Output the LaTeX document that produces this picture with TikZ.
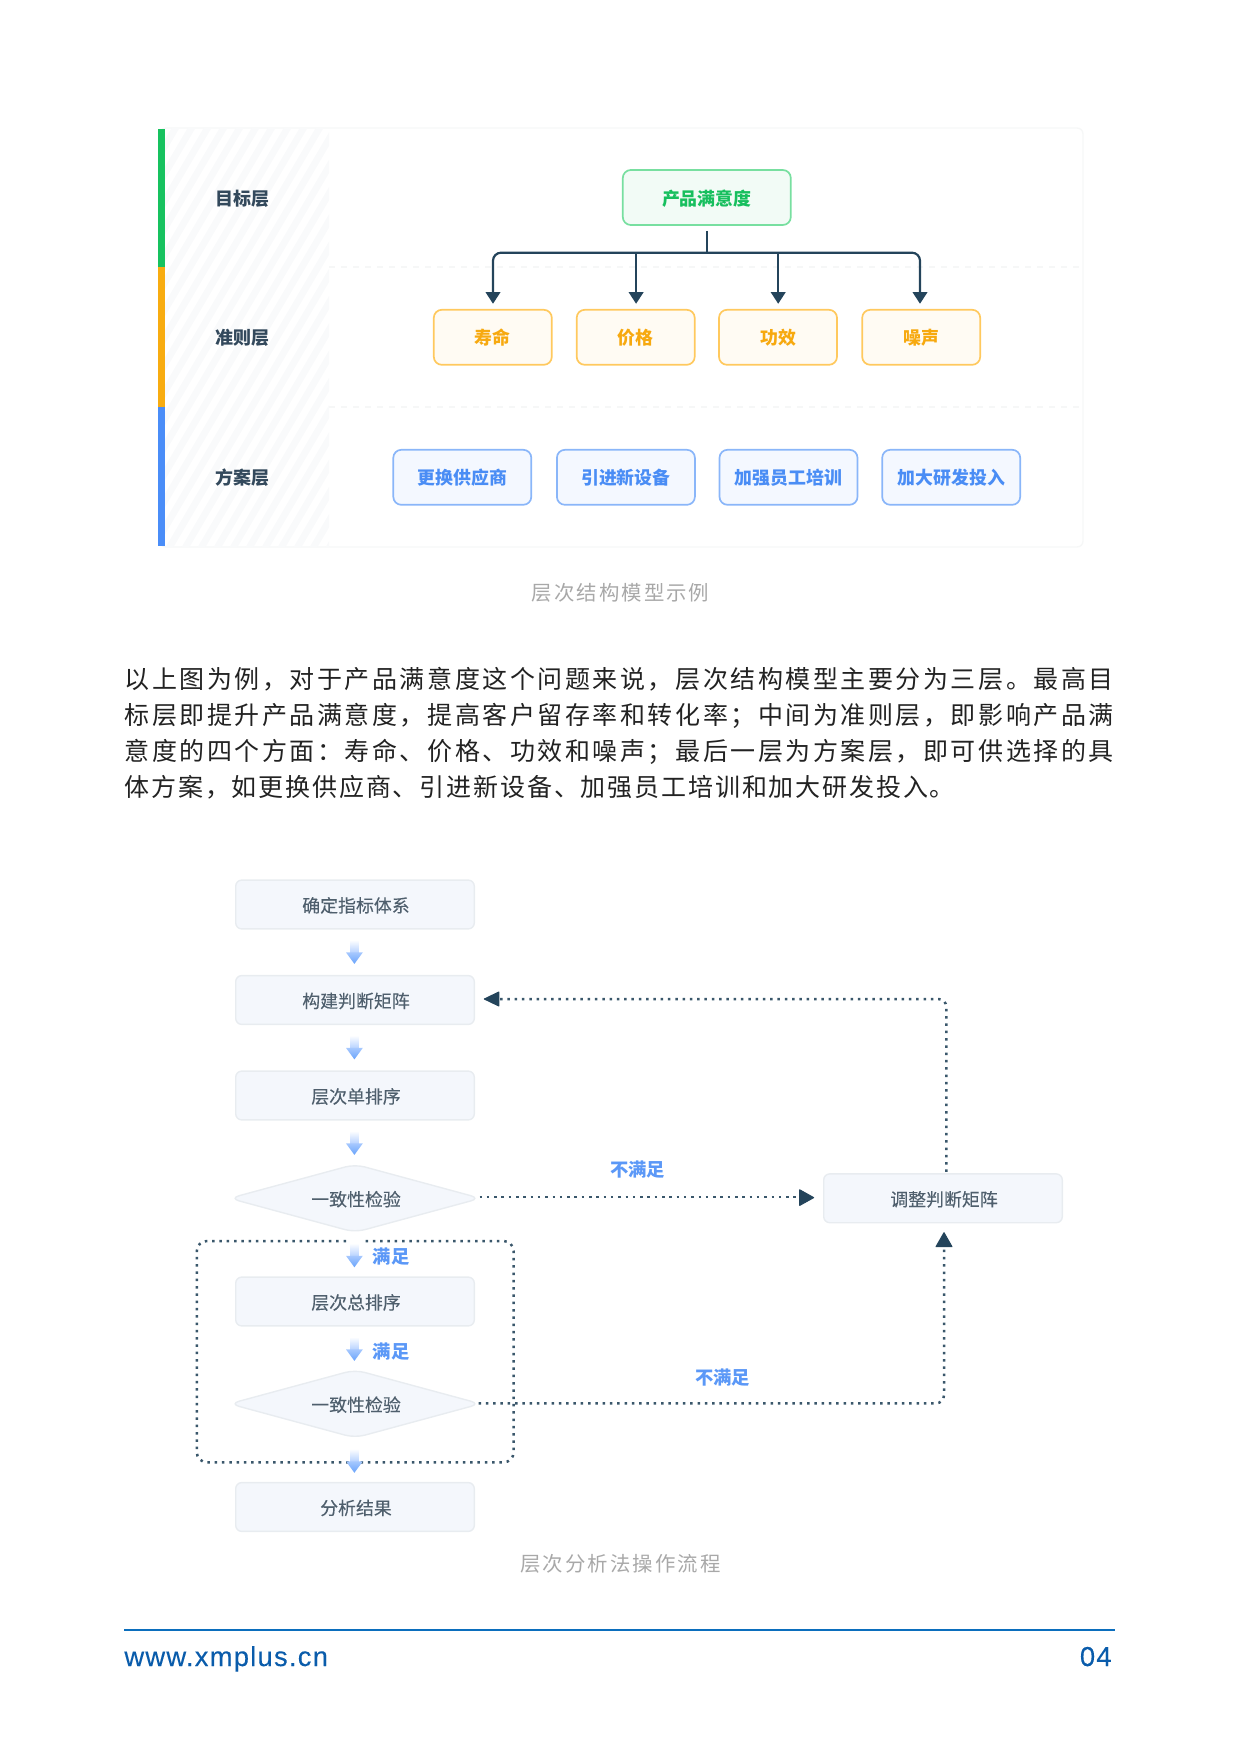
\documentclass[tikz,border=0pt]{standalone}
\usepackage{fontspec}
\setmainfont{Noto Sans CJK SC}
\newfontfamily\bodyfont[LetterSpace=10.2]{Noto Sans CJK SC}
\newfontfamily\bodyfontnat[LetterSpace=7.4]{Noto Sans CJK SC}
\newfontfamily\footfont[LetterSpace=4.5,FakeBold=0.2]{Liberation Sans}
\newfontface\flowface[FakeBold=0.12]{Noto Sans CJK SC}
\usetikzlibrary{arrows.meta,shapes.geometric,calc}
\definecolor{barG}{HTML}{17C25F}
\definecolor{barO}{HTML}{F8AC10}
\definecolor{barB}{HTML}{4A8DF8}
\definecolor{framec}{HTML}{F6F7F7}
\definecolor{hatchc}{HTML}{F9FAFB}
\definecolor{gFill}{HTML}{F2FBF6}
\definecolor{gDraw}{HTML}{78DFA0}
\definecolor{gText}{HTML}{17BF5E}
\definecolor{oFill}{HTML}{FFFBF3}
\definecolor{oDraw}{HTML}{FFC95E}
\definecolor{oText}{HTML}{F7A90F}
\definecolor{bFill}{HTML}{F4F8FF}
\definecolor{bDraw}{HTML}{8AB6F9}
\definecolor{bText}{HTML}{4A8DF5}
\definecolor{okText}{HTML}{5B98F7}
\definecolor{dark}{HTML}{24445B}
\definecolor{labelc}{HTML}{33495C}
\definecolor{flowFill}{HTML}{F4F7FC}
\definecolor{flowDraw}{HTML}{E8ECF0}
\definecolor{flowText}{HTML}{4F5F6D}
\definecolor{capc}{HTML}{A8A8A8}
\definecolor{bodyc}{HTML}{222222}
\definecolor{rulec}{HTML}{0B6EBD}
\definecolor{footc}{HTML}{0A5CAB}
\definecolor{aTop}{HTML}{B5D1FF}
\definecolor{aBot}{HTML}{6AA4FB}
\tikzset{
  layerlabel/.style={font=\fontsize{9}{10}\selectfont\bfseries,text=labelc,inner sep=0pt,text height=8.4pt,text depth=1pt},
  tree/.style={rounded corners=4pt,line width=.85pt,inner sep=0pt,outer sep=0pt,font=\fontsize{8.95}{10}\selectfont\bfseries,text height=7.9pt,text depth=1.06pt},
  goal/.style={tree,draw=gDraw,fill=gFill,text=gText,minimum width=84pt,minimum height=27.5pt,text height=8.9pt},
  crit/.style={tree,draw=oDraw,fill=oFill,text=oText,minimum width=59pt,minimum height=27.5pt},
  plan/.style={tree,draw=bDraw,fill=bFill,text=bText,minimum width=69pt,minimum height=27.5pt},
  treearrow/.style={draw=dark,line width=1.1pt,rounded corners=4pt,-{Triangle[length=5.8pt,width=7.2pt]}},
  flowcore/.style={draw=flowDraw,fill=flowFill,line width=.7pt,inner sep=0pt,outer sep=0pt,text=flowText,font=\fontsize{8.95}{10}\flowface,text height=8.8pt,text depth=1.06pt,execute at begin node={\hspace*{1pt}}},
  flowbox/.style={flowcore,rounded corners=3pt,minimum width=119.3pt,minimum height=24.4pt},
  flowdiamond/.style={flowcore,shape=diamond,aspect=3.6,rounded corners=5pt,minimum width=125.5pt,minimum height=34pt},
  okay/.style={inner sep=0pt,text=okText,font=\fontsize{9.15}{10}\selectfont\bfseries,text height=7.8pt,text depth=1.06pt},
  dots/.style={draw=dark!90,line width=1.25pt,dash pattern=on 1.25pt off 2.4pt,rounded corners=4pt},
  dothead/.style={fill=dark,draw=dark,line width=.5pt,line join=round},
  bodyline/.style={anchor=west,inner sep=0pt,text=bodyc,font=\fontsize{12.5}{14}\bodyfont,text height=11pt,text depth=1.5pt},
  bodyshort/.style={bodyline,font=\fontsize{12.5}{14}\bodyfontnat},
  captiontext/.style={inner sep=0pt,text=capc,font=\fontsize{10.2}{12}\bodyfont,text height=8.8pt,text depth=1.2pt},
  foot/.style={anchor=base,inner sep=0pt,text=footc,font=\fontsize{13.7}{15}\footfont}
}
% tinted down arrow between flow steps: #1 = upper node
\newcommand{\flowarrow}[1]{%
  \coordinate (fa) at ($(#1.south)+(-0.6,11)$);
  \shade[top color=white,bottom color=aTop] ($(fa)+(-4.4,0)$) rectangle ($(fa)+(4.4,13)$);
  \shade[top color=aTop!80!aBot,bottom color=aBot] ($(fa)+(-8.4,12.5)$) -- ($(fa)+(8.4,12.5)$) -- ($(fa)+(0,24)$) -- cycle;
}
\begin{document}
\begin{tikzpicture}[x=0.5pt,y=-0.5pt]
\useasboundingbox (0,0) rectangle (1239,1755);
% frame and hatch of the layer table
\draw[framec,line width=.7pt,rounded corners=3pt] (160,128) rectangle (1083,547);
\begin{scope}
  \clip (164.5,129) rectangle (329,546);
  \foreach \k in {-20,...,24}{
    \draw[hatchc,line width=3.4pt] ({130+\k*16},560) -- ({130+\k*16+270},100);
  }
\end{scope}
\draw[framec,line width=.6pt,dash pattern=on 3pt off 3pt] (329,267) -- (1083,267);
\draw[framec,line width=.6pt,dash pattern=on 3pt off 3pt] (329,407) -- (1083,407);
\fill[barG] (157.8,129) rectangle (164.5,267.5);
\fill[barO] (157.8,267.5) rectangle (164.5,407);
\fill[barB] (157.8,407) rectangle (164.5,546);
\node[layerlabel] (l1) at (242.3,198) {目标层};
\node[layerlabel] (l2) at (242.3,337) {准则层};
\node[layerlabel] (l3) at (242.3,477) {方案层};
\node[goal] (g) at (706.8,197.5) {产品满意度};
\node[crit] (c1) at (492.8,337.3) {寿命};
\node[crit] (c2) at (635.7,337.3) {价格};
\node[crit] (c3) at (778,337.3) {功效};
\node[crit] (c4) at (921.2,337.3) {噪声};
\node[plan] (p1) at (462.3,477.3) {更换供应商};
\node[plan] (p2) at (625.9,477.3) {引进新设备};
\node[plan] (p3) at (788.5,477.3) {加强员工培训};
\node[plan] (p4) at (951.2,477.3) {加大研发投入};
\coordinate (bus) at ($(g.south)+(0,27.7)$);
\draw[dark,line width=1pt] ($(g.south)+(0,6)$) -- (bus);
\draw[treearrow] (bus) -| ($(c1.north)+(0.2,-6)$);
\draw[treearrow] ($(c2.north |- bus)+(0.4,0)$) -- ($(c2.north)+(0.4,-6)$);
\draw[treearrow] ($(c3.north |- bus)+(0.2,0)$) -- ($(c3.north)+(0.2,-6)$);
\draw[treearrow] (bus) -| ($(c4.north)+(-1.2,-6)$);
\node[captiontext] (cap1) at (620.5,593.3) {层次结构模型示例};
% paragraph
\node[bodyline] (t1) at (124.1,679.4) {以上图为例，对于产品满意度这个问题来说，层次结构模型主要分为三层。最高目};
\node[bodyline] (t2) at (124.1,715.2) {标层即提升产品满意度，提高客户留存率和转化率；中间为准则层，即影响产品满};
\node[bodyline] (t3) at (124.1,751) {意度的四个方面：寿命、价格、功效和噪声；最后一层为方案层，即可供选择的具};
\node[bodyshort] (t4) at (124.1,787) {体方案，如更换供应商、引进新设备、加强员工培训和加大研发投入。};
% flow
\node[flowbox] (f1) at (355,904.5) {确定指标体系};
\node[flowbox] (f2) at (355,1000) {构建判断矩阵};
\node[flowbox] (f3) at (355,1095.5) {层次单排序};
\node[flowdiamond] (d1) at (355,1198.3) {一致性检验};
\node[flowbox] (f4) at (355,1301.5) {层次总排序};
\node[flowdiamond] (d2) at (355,1403.8) {一致性检验};
\node[flowbox] (f5) at (355,1507) {分析结果};
\node[flowbox] (adj) at (943,1198.3) {调整判断矩阵};
% dotted group
\draw[dots,rounded corners=5pt] (346,1241) -- (196.8,1241) -- (196.8,1462.3) -- (513.6,1462.3) -- (513.6,1241) -- (364,1241);
\flowarrow{f1}
\flowarrow{f2}
\flowarrow{f3}
\flowarrow{d1}
\flowarrow{f4}
\flowarrow{d2}
\node[okay] (ok1) at (391.2,1256.7) {满足};
\node[okay] (ok2) at (391.2,1351.7) {满足};
\node[okay] (no1) at (637.5,1170) {不满足};
\node[okay] (no2) at (722.5,1377.7) {不满足};
% dotted connectors
\coordinate (ctop) at ($(adj.north)+(3.4,-2)$);
\draw[dots] (ctop) |- ($(f2.east)+(25,-1)$);
\fill[dothead] ($(f2.east)+(10,-1)$) -- ($(f2.east)+(24.5,-8)$) -- ($(f2.east)+(24.5,6)$) -- cycle;
\draw[dots] ($(d1.east)+(-1,-1.3)$) -- ($(adj.west)+(-24,-1.3)$);
\fill[dothead] ($(adj.west)+(-10,-0.7)$) -- ($(adj.west)+(-24,-8.5)$) -- ($(adj.west)+(-24,7.1)$) -- cycle;
\draw[dots] ($(d2.east)+(-2,-0.5)$) -| ($(adj.south)+(1,24)$);
\fill[dothead] ($(adj.south)+(1,10)$) -- ($(adj.south)+(-7,24)$) -- ($(adj.south)+(9,24)$) -- cycle;
\node[captiontext] (cap2) at (620.5,1564.3) {层次分析法操作流程};
% footer
\draw[rulec,line width=1pt] (124.3,1630) -- (1115,1630);
\node[foot,anchor=base west] (url) at (124,1666) {www.xmplus.cn};
\node[foot,anchor=base east] (pg) at (1112,1666) {04};
\end{tikzpicture}
\end{document}
